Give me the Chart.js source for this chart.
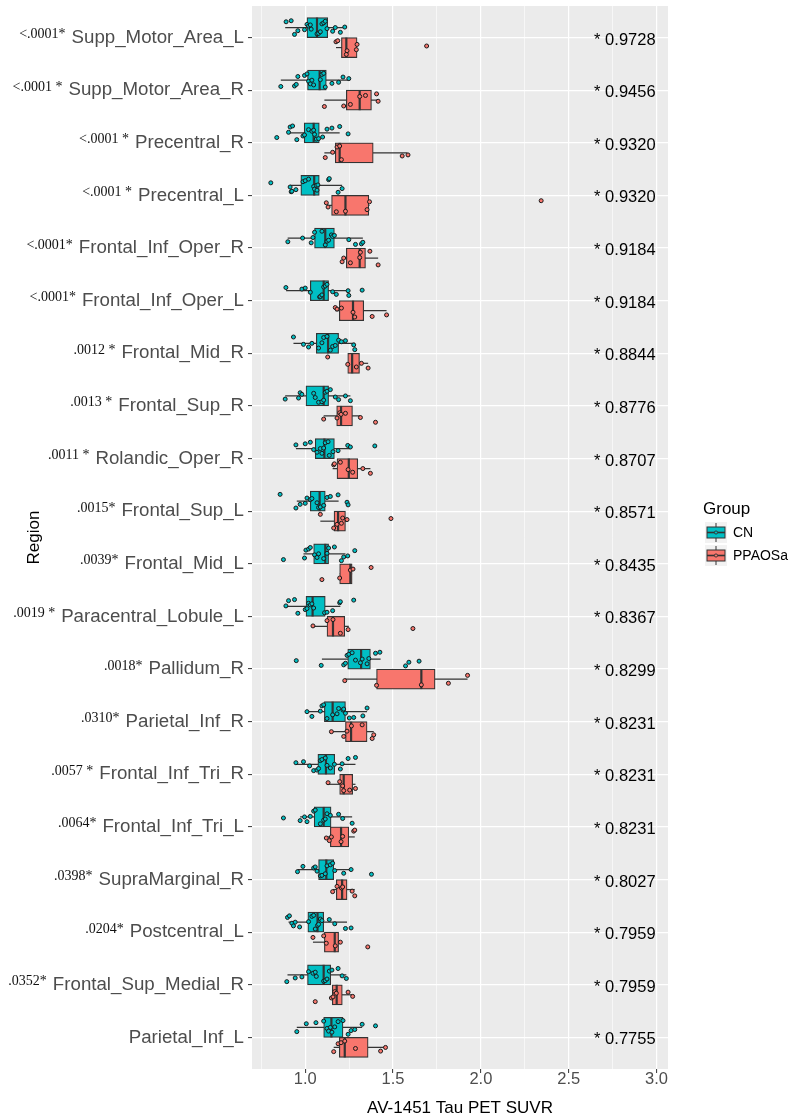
<!DOCTYPE html>
<html><head><meta charset="utf-8">
<script src="https://cdn.jsdelivr.net/npm/chart.js@4.4.0/dist/chart.umd.min.js"></script>
<style>html,body{margin:0;padding:0;background:#fff}#wrap{width:791px;height:1119px}</style>
</head><body><div id="wrap"><canvas id="c" width="791" height="1119"></canvas></div>
<script>
// ---------------- data ----------------
const regions = ["Supp_Motor_Area_L","Supp_Motor_Area_R","Precentral_R","Precentral_L","Frontal_Inf_Oper_R","Frontal_Inf_Oper_L","Frontal_Mid_R","Frontal_Sup_R","Rolandic_Oper_R","Frontal_Sup_L","Frontal_Mid_L","Paracentral_Lobule_L","Pallidum_R","Parietal_Inf_R","Frontal_Inf_Tri_R","Frontal_Inf_Tri_L","SupraMarginal_R","Postcentral_L","Frontal_Sup_Medial_R","Parietal_Inf_L"];
const pLabels = ["<.0001*","<.0001 *","<.0001 *","<.0001 *","<.0001*","<.0001*",".0012 *",".0013 *",".0011 *",".0015*",".0039*",".0019 *",".0018*",".0310*",".0057 *",".0064*",".0398*",".0204*",".0352*",""];
const aucLabels = ["0.9728","0.9456","0.9320","0.9320","0.9184","0.9184","0.8844","0.8776","0.8707","0.8571","0.8435","0.8367","0.8299","0.8231","0.8231","0.8231","0.8027","0.7959","0.7959","0.7755"];
const groupNames = ["CN","PPAOSa"];
const xTickValues = [0.75,1.0,1.25,1.5,1.75,2.0,2.25,2.5,2.75,3.0];
// [lower whisker, Q1, median, Q3, upper whisker]
const cnStats = [
 [0.886,1.010,1.067,1.128,1.225],[0.861,1.013,1.082,1.120,1.248],[0.905,0.994,1.048,1.080,1.196],[0.914,0.975,1.051,1.080,1.210],
 [0.900,1.053,1.114,1.166,1.328],[0.891,1.029,1.105,1.133,1.248],[0.933,1.063,1.130,1.190,1.282],[0.886,1.004,1.105,1.133,1.257],
 [0.947,1.057,1.109,1.166,1.257],[0.952,1.029,1.082,1.114,1.190],[0.990,1.048,1.114,1.133,1.229],[0.890,1.004,1.042,1.114,1.200],
 [1.095,1.242,1.318,1.371,1.429],[1.010,1.109,1.156,1.229,1.352],[0.947,1.072,1.118,1.168,1.286],[0.971,1.051,1.105,1.147,1.267],
 [0.956,1.076,1.120,1.162,1.261],[0.905,1.015,1.070,1.105,1.238],[0.899,1.013,1.105,1.145,1.234],[0.952,1.105,1.149,1.215,1.324]
];
const ppStats = [
 [1.175,1.206,1.234,1.295,1.295],[1.109,1.234,1.310,1.377,1.415],[1.109,1.171,1.196,1.387,1.581],[1.124,1.150,1.229,1.362,1.366],
 [1.210,1.234,1.310,1.343,1.415],[1.171,1.194,1.272,1.333,1.463],[1.242,1.242,1.267,1.309,1.358],[1.105,1.179,1.204,1.269,1.314],
 [1.156,1.181,1.248,1.299,1.371],[1.086,1.164,1.187,1.229,1.232],[1.196,1.196,1.257,1.267,1.267],[1.044,1.124,1.158,1.225,1.248],
 [1.225,1.406,1.661,1.739,1.924],[1.149,1.229,1.261,1.352,1.390],[1.130,1.196,1.219,1.270,1.286],[1.120,1.143,1.204,1.248,1.282],
 [1.156,1.177,1.210,1.238,1.282],[1.044,1.109,1.168,1.190,1.200],[1.154,1.154,1.179,1.211,1.267],[1.162,1.194,1.225,1.358,1.457]
];
const cnPoints = [
 [0.891,0.920,0.939,0.958,0.996,1.010,1.019,1.029,1.034,1.067,1.076,1.086,1.095,1.105,1.114,1.124,1.156,1.171,1.200,1.225],
 [0.861,0.939,0.949,0.958,0.996,1.010,1.019,1.029,1.038,1.048,1.086,1.095,1.105,1.114,1.152,1.190,1.215,1.248],
 [0.838,0.905,0.914,0.928,0.952,0.987,0.996,1.019,1.038,1.048,1.053,1.063,1.076,1.099,1.124,1.152,1.196,1.244],
 [0.804,0.914,0.920,0.924,0.947,0.987,1.000,1.019,1.048,1.053,1.063,1.067,1.072,1.133,1.137,1.187,1.210],
 [0.901,0.985,1.034,1.044,1.053,1.095,1.114,1.124,1.133,1.149,1.156,1.166,1.248,1.286,1.320,1.328],
 [0.890,0.981,1.000,1.029,1.082,1.086,1.095,1.105,1.114,1.124,1.156,1.177,1.244,1.248,1.324],
 [0.933,0.990,1.019,1.038,1.076,1.095,1.105,1.124,1.143,1.156,1.171,1.190,1.206,1.229,1.276,1.282],
 [0.886,0.962,0.971,0.981,1.048,1.057,1.076,1.095,1.105,1.114,1.124,1.143,1.171,1.190,1.229,1.257],
 [0.947,1.000,1.029,1.048,1.067,1.086,1.095,1.105,1.114,1.130,1.137,1.158,1.187,1.242,1.257,1.396],
 [0.857,0.947,0.971,1.000,1.010,1.029,1.038,1.067,1.076,1.086,1.105,1.124,1.143,1.187,1.238,1.244],
 [0.876,0.996,1.004,1.019,1.029,1.053,1.067,1.076,1.105,1.124,1.133,1.166,1.206,1.219,1.242,1.282],
 [0.890,0.905,0.939,0.958,1.000,1.010,1.019,1.029,1.038,1.048,1.110,1.124,1.156,1.196,1.200,1.276],
 [0.949,1.091,1.219,1.229,1.238,1.248,1.267,1.286,1.314,1.324,1.352,1.362,1.400,1.425,1.571,1.590,1.648],
 [1.010,1.038,1.086,1.095,1.105,1.124,1.156,1.181,1.190,1.215,1.219,1.229,1.251,1.276,1.328,1.352],
 [0.947,0.990,1.025,1.048,1.067,1.076,1.086,1.095,1.114,1.124,1.143,1.166,1.200,1.210,1.244,1.286],
 [0.876,0.971,0.996,1.010,1.029,1.048,1.057,1.086,1.105,1.114,1.124,1.143,1.190,1.213,1.267],
 [0.956,0.987,1.048,1.057,1.067,1.086,1.095,1.114,1.124,1.143,1.156,1.168,1.219,1.261,1.377],
 [0.899,0.910,0.924,0.933,0.943,0.968,1.019,1.038,1.048,1.057,1.070,1.076,1.086,1.095,1.137,1.168,1.229,1.261],
 [0.895,0.943,0.981,1.019,1.044,1.057,1.063,1.105,1.114,1.124,1.137,1.152,1.187,1.210,1.234],
 [0.952,1.006,1.061,1.105,1.124,1.133,1.143,1.152,1.168,1.187,1.215,1.244,1.261,1.282,1.324,1.400]
];
const ppPoints = [
 [1.175,1.185,1.234,1.238,1.291,1.295,1.691],
 [1.109,1.219,1.257,1.310,1.343,1.406,1.415],
 [1.114,1.156,1.181,1.196,1.206,1.552,1.585],
 [1.120,1.130,1.177,1.229,1.352,1.366,2.343],
 [1.210,1.219,1.257,1.310,1.314,1.368,1.415],
 [1.171,1.181,1.206,1.272,1.282,1.381,1.463],
 [1.128,1.242,1.291,1.320,1.358],
 [1.105,1.181,1.196,1.204,1.229,1.314,1.400],
 [1.162,1.166,1.200,1.244,1.270,1.328,1.371],
 [1.086,1.162,1.181,1.206,1.213,1.238,1.488],
 [1.095,1.196,1.257,1.272,1.375],
 [1.044,1.124,1.158,1.200,1.244,1.613],
 [1.225,1.406,1.661,1.815,1.924],
 [1.149,1.219,1.238,1.263,1.324,1.381,1.390],
 [1.130,1.196,1.213,1.219,1.253,1.286],
 [1.120,1.137,1.149,1.204,1.213,1.276,1.282],
 [1.156,1.181,1.206,1.213,1.267,1.282],
 [1.044,1.105,1.120,1.171,1.200,1.356],
 [1.057,1.149,1.158,1.168,1.177,1.244,1.270],
 [1.162,1.187,1.204,1.225,1.286,1.429,1.457]
];

// ---------------- styling / layout ----------------
const SANS = '"Liberation Sans", Arial, sans-serif';
const SERIF = '"Liberation Serif", "Times New Roman", serif';
const COLORS = ["#00BFC4", "#F8766D"];
const DODGE = 0.19;
const jitterPattern = [-0.11,0.06,-0.03,0.12,-0.07,0.02,0.09,-0.13,0.04,-0.05,0.11,-0.09,0.07,-0.01,0.13,-0.06,0.03,0.08,-0.12,0.0];

function boxData(stats, off) { return stats.map((s, i) => ({ x: [s[1], s[3]], y: i + off })); }
function pointData(points, off) {
  const out = [];
  points.forEach((arr, i) => arr.forEach((v, j) => out.push({ x: v, y: i + off + jitterPattern[(j * 7 + i * 3) % jitterPattern.length] })));
  return out;
}
const isMajor = v => Math.abs(v * 2 - Math.round(v * 2)) < 1e-9;

const panelBg = {
  id: 'panelBg',
  beforeDraw(chart) {
    const { ctx, chartArea: a } = chart;
    ctx.save(); ctx.fillStyle = '#EBEBEB'; ctx.fillRect(a.left, a.top, a.width, a.height); ctx.restore();
  }
};

const boxParts = {
  id: 'boxParts',
  beforeDatasetsDraw(chart) {
    const ctx = chart.ctx, xs = chart.scales.x;
    ctx.save(); ctx.strokeStyle = '#333333'; ctx.lineWidth = 1.2;
    chart.data.datasets.forEach((ds, d) => {
      if (!ds.stats) return;
      chart.getDatasetMeta(d).data.forEach((el, j) => {
        const s = ds.stats[j];
        ctx.beginPath();
        ctx.moveTo(xs.getPixelForValue(s[0]), el.y);
        ctx.lineTo(xs.getPixelForValue(s[4]), el.y);
        ctx.stroke();
      });
    });
    ctx.restore();
  },
  afterDatasetDraw(chart, args) {
    const ds = chart.data.datasets[args.index];
    if (!ds.stats) return;
    const ctx = chart.ctx, xs = chart.scales.x;
    ctx.save(); ctx.strokeStyle = '#333333'; ctx.lineWidth = 2.2;
    args.meta.data.forEach((el, j) => {
      const x = xs.getPixelForValue(ds.stats[j][2]);
      ctx.beginPath(); ctx.moveTo(x, el.y - el.height / 2); ctx.lineTo(x, el.y + el.height / 2); ctx.stroke();
    });
    ctx.restore();
  }
};

const annotations = {
  id: 'annotations',
  afterDraw(chart) {
    const ctx = chart.ctx, xs = chart.scales.x, ys = chart.scales.y;
    ctx.save();
    const labelRight = ys.right - 8;
    regions.forEach((r, i) => {
      const y = ys.getPixelForValue(i);
      ctx.font = '18.7px ' + SANS;
      const w = ctx.measureText(r).width;
      ctx.font = '14px ' + SERIF;
      ctx.fillStyle = '#111111';
      ctx.textAlign = 'right'; ctx.textBaseline = 'alphabetic';
      ctx.fillText(pLabels[i], labelRight - w - 6, y + 0.5);
      ctx.font = '16.5px ' + SANS;
      ctx.fillStyle = '#000000';
      ctx.fillText('* ' + aucLabels[i], xs.getPixelForValue(3.0) - 1, y + 7);
    });
    // legend
    const lx = 703, ty = 514;
    ctx.textAlign = 'left';
    ctx.font = '17px ' + SANS; ctx.fillStyle = '#000';
    ctx.fillText('Group', lx, ty);
    groupNames.forEach((g, k) => {
      const kx = 705, ky = 522 + k * 23, kw = 22, kh = 21;
      ctx.fillStyle = '#F2F2F2'; ctx.fillRect(kx, ky, kw, kh);
      ctx.strokeStyle = '#333'; ctx.lineWidth = 1;
      ctx.beginPath(); ctx.moveTo(kx + kw / 2, ky + 1); ctx.lineTo(kx + kw / 2, ky + kh - 1); ctx.stroke();
      ctx.fillStyle = COLORS[k];
      ctx.fillRect(kx + 2, ky + 5, kw - 4, kh - 10);
      ctx.strokeRect(kx + 2, ky + 5, kw - 4, kh - 10);
      ctx.lineWidth = 1.6;
      ctx.beginPath(); ctx.moveTo(kx + 2, ky + kh / 2); ctx.lineTo(kx + kw - 2, ky + kh / 2); ctx.stroke();
      ctx.lineWidth = 0.9; ctx.fillStyle = COLORS[k];
      ctx.beginPath(); ctx.arc(kx + kw / 2, ky + kh / 2, 1.6, 0, Math.PI * 2); ctx.fill(); ctx.stroke();
      ctx.font = '14px ' + SANS; ctx.fillStyle = '#000'; ctx.textBaseline = 'middle';
      ctx.fillText(g, kx + kw + 6, ky + kh / 2 + 1);
      ctx.textBaseline = 'alphabetic';
    });
    ctx.restore();
  }
};

new Chart(document.getElementById('c'), {
  type: 'bar',
  data: {
    datasets: [
      { type: 'bar', label: groupNames[0], data: boxData(cnStats, -DODGE), stats: cnStats, backgroundColor: COLORS[0], borderColor: '#333333', borderWidth: 1.2, borderSkipped: false, grouped: false, categoryPercentage: 1, barPercentage: 1, order: 2 },
      { type: 'bar', label: groupNames[1], data: boxData(ppStats, DODGE), stats: ppStats, backgroundColor: COLORS[1], borderColor: '#333333', borderWidth: 1.2, borderSkipped: false, grouped: false, categoryPercentage: 1, barPercentage: 1, order: 2 },
      { type: 'scatter', label: groupNames[0] + ' points', data: pointData(cnPoints, -DODGE), pointRadius: 2, pointBackgroundColor: COLORS[0], pointBorderColor: '#1a1a1a', pointBorderWidth: 1, order: 1 },
      { type: 'scatter', label: groupNames[1] + ' points', data: pointData(ppPoints, DODGE), pointRadius: 2, pointBackgroundColor: COLORS[1], pointBorderColor: '#1a1a1a', pointBorderWidth: 1, order: 1 }
    ]
  },
  options: {
    indexAxis: 'y',
    responsive: false,
    animation: false,
    layout: { padding: { left: 0, right: 123, top: 6, bottom: 0 } },
    plugins: { legend: { display: false }, tooltip: { enabled: false } },
    scales: {
      x: {
        type: 'linear', min: 0.697, max: 3.065, offset: false,
        afterBuildTicks: s => { s.ticks = xTickValues.map(v => ({ value: v })); },
        afterFit: s => { s.height = 50; s.paddingLeft = 0; s.paddingRight = 0; },
        ticks: { callback: v => isMajor(v) ? v.toFixed(1) : '', autoSkip: false, maxRotation: 0, padding: -2, color: '#4D4D4D', font: { family: SANS, size: 16.5, lineHeight: 1 } },
        grid: { offset: false, color: '#FFFFFF', lineWidth: c => isMajor(c.tick.value) ? 1.2 : 0.6, tickColor: c => isMajor(c.tick.value) ? '#333333' : 'rgba(0,0,0,0)', tickLength: 4, tickWidth: 1 },
        border: { display: false },
        title: { display: true, text: 'AV-1451 Tau PET SUVR', color: '#000', font: { family: SANS, size: 17 }, padding: { top: 4, bottom: 0 } }
      },
      y: {
        type: 'linear', reverse: true, min: -0.6, max: 19.6, offset: false,
        afterBuildTicks: s => { s.ticks = regions.map((r, i) => ({ value: i })); },
        afterFit: s => { s.width = 252; s.paddingTop = 0; s.paddingBottom = 0; },
        ticks: { callback: v => regions[v] ?? '', autoSkip: false, padding: 4, color: '#4D4D4D', font: { family: SANS, size: 18.7 } },
        grid: { offset: false, color: '#FFFFFF', lineWidth: 1.2, tickColor: '#333333', tickLength: 4, tickWidth: 1 },
        border: { display: false },
        title: { display: true, text: 'Region', color: '#000', font: { family: SANS, size: 17 }, padding: { top: 24, bottom: 0 } }
      }
    }
  },
  plugins: [panelBg, boxParts, annotations]
});
</script></body></html>
